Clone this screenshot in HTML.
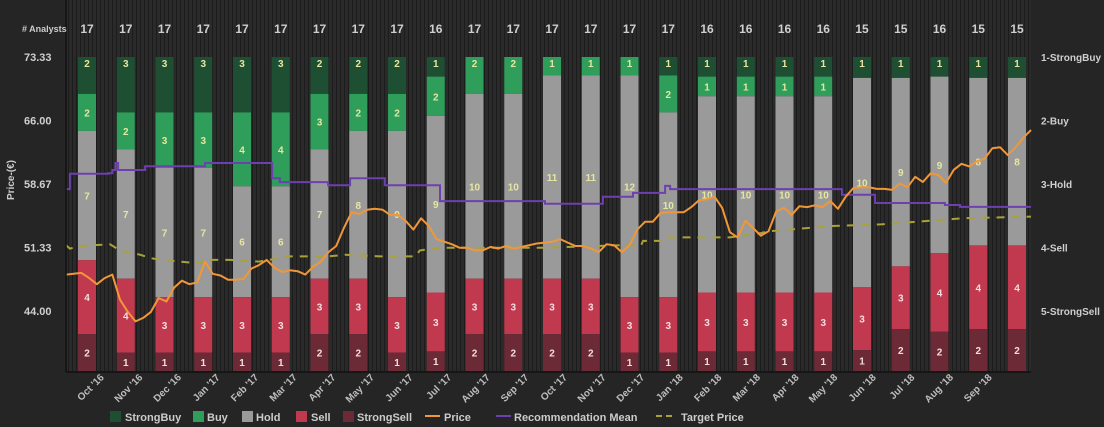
<!DOCTYPE html>
<html><head><meta charset="utf-8"><style>
html,body{margin:0;padding:0;background:#252525;}
svg{display:block;font-family:"Liberation Sans",sans-serif;}
</style></head><body>
<svg id="chart" width="1104" height="427" viewBox="0 0 1104 427">
<defs>
<pattern id="stripes" width="4" height="10" patternUnits="userSpaceOnUse">
<rect width="4" height="10" fill="#2a2a2a"/><rect width="1" height="10" fill="#1c1c1c"/>
</pattern>
</defs>
<rect x="0" y="0" width="1104" height="427" fill="#252525"/>
<rect x="66" y="0" width="965" height="372" fill="url(#stripes)"/>
<g id="bars"></g>
<g id="lines"></g>
<line x1="66" y1="0" x2="66" y2="372" stroke="#111" stroke-width="1.5"/>
<line x1="66" y1="372" x2="1031" y2="372" stroke="#111" stroke-width="1.5"/>
<text x="22" y="32" font-size="9" font-weight="bold" fill="#ccc"># Analysts</text>
<text transform="translate(14,180) rotate(-90)" text-anchor="middle" font-size="10" font-weight="bold" fill="#ccc">Price-(€)</text>
<g id="axes"></g>
<g id="legend" font-size="11" font-weight="bold" fill="#ccc">
<rect x="110" y="411" width="11" height="11" fill="#1f4f33"/>
<text x="125" y="421">StrongBuy</text>
<rect x="193" y="411" width="11" height="11" fill="#2e9e5a"/>
<text x="207" y="421">Buy</text>
<rect x="242" y="411" width="11" height="11" fill="#9a9a9a"/>
<text x="256" y="421">Hold</text>
<rect x="296" y="411" width="11" height="11" fill="#c0394f"/>
<text x="311" y="421">Sell</text>
<rect x="343" y="411" width="11" height="11" fill="#6b2a35"/>
<text x="357" y="421">StrongSell</text>
<line x1="425" y1="416" x2="440" y2="416" stroke="#f0973a" stroke-width="2"/>
<text x="444" y="421">Price</text>
<line x1="496" y1="416" x2="511" y2="416" stroke="#6e3fb0" stroke-width="2"/>
<text x="514" y="421">Recommendation Mean</text>
<line x1="656" y1="416" x2="676" y2="416" stroke="#a9a23a" stroke-width="2" stroke-dasharray="6,4"/>
<text x="681" y="421">Target Price</text>
</g>
</svg>
<script>
const months = ["Oct '16","Nov '16","Dec '16","Jan '17","Feb '17","Mar '17","Apr '17","May '17","Jun '17","Jul '17","Aug '17","Sep '17","Oct '17","Nov '17","Dec '17","Jan '18","Feb '18","Mar '18","Apr '18","May '18","Jun '18","Jul '18","Aug '18","Sep '18"];
const strongBuy = [2,3,3,3,3,3,2,2,2,1,0,0,0,0,0,1,1,1,1,1,1,1,1,1,1];
const buy       = [2,2,3,3,4,4,3,2,2,2,2,2,1,1,1,2,1,1,1,1,0,0,0,0,0];
const hold      = [7,7,7,7,6,6,7,8,9,9,10,10,11,11,12,10,10,10,10,10,10,9,9,8,8];
const sell      = [4,4,3,3,3,3,3,3,3,3,3,3,3,3,3,3,3,3,3,3,3,3,4,4,4];
const strongSell= [2,1,1,1,1,1,2,2,1,1,2,2,2,2,1,1,1,1,1,1,1,2,2,2,2];
const priceTicks = [73.33,66.00,58.67,51.33,44.00];
const recLabels = ["1-StrongBuy","2-Buy","3-Hold","4-Sell","5-StrongSell"];
const priceV = [48.2,48.3,48.4,47.8,47.1,47.8,48.2,45.3,43.9,42.8,43.2,43.9,45.5,45.1,46.7,47.5,47.1,47.3,49.7,48.3,48.1,47.6,47.6,47.7,48.9,49.3,49.9,49.0,48.5,48.7,48.6,48.2,49.1,49.7,50.8,51.5,53.6,55.4,55.2,55.7,55.8,55.7,55.1,55.1,54.4,53.4,54.7,53.8,52.3,52.0,51.7,51.3,51.3,51.0,51.0,51.4,51.2,51.5,51.2,51.4,51.6,51.8,51.9,52.0,52.3,51.9,51.5,51.5,51.2,50.8,51.7,51.6,50.8,51.6,53.4,54.3,54.3,55.3,55.4,55.4,55.4,56.0,56.8,56.9,57.2,55.9,53.1,52.5,54.4,53.6,52.7,53.2,55.5,55.9,55.1,56.1,56.0,56.2,56.0,56.7,55.8,57.2,58.2,58.3,58.3,58.1,58.1,58.0,58.7,58.3,59.5,58.9,59.9,59.7,58.8,60.3,61.0,60.7,61.3,61.6,62.8,62.9,62.0,62.9,64.0,64.9];
const recT = [0,0.1,1.09,1.2,1.28,1.35,2.05,3.6,5.34,5.54,6.79,7.36,8.26,9.69,12.41,13.91,14.69,15.52,15.65,20.1,20.96,22.77,23.16,25];
const recV = [3.08,2.84,2.83,2.78,2.67,2.78,2.72,2.67,2.91,2.97,3.02,2.91,3.02,3.27,3.31,3.20,3.14,3.03,3.08,3.17,3.30,3.33,3.36,3.36];
const targetT = [0,0.1,0.36,1.14,1.4,1.92,2.2,2.46,3.47,3.6,4.25,5.0,5.8,6.8,7.23,8.14,9.04,9.17,9.7,12.4,14.4,14.9,14.95,15.4,15.5,17.2,18.0,18.2,19.0,19.8,21.1,22.6,23.2,25];
const targetV = [51.6,51.2,51.5,51.7,51.0,50.5,50.1,49.9,49.5,49.9,49.9,49.7,50.3,50.3,50.5,50.3,50.3,51.0,51.3,51.3,51.6,51.6,52.1,52.1,52.5,52.5,53.0,53.2,53.5,53.8,54.0,54.5,54.7,54.9];

const NS="http://www.w3.org/2000/svg";
const X0=66, X1=1031, TOP=57, BOT=371;
const xT = t => X0 + (X1-X0)*t/25;
const yP = v => 57 + (73.33-v)*(311-57)/29.33;
const yR = m => 57 + (m-1)*(311-57)/4;
const nBars = strongBuy.length;
const bandX = i => 87 + (1017-87)*i/(nBars-1);
function mk(tag, attrs, parent){const e=document.createElementNS(NS,tag);for(const k in attrs)e.setAttribute(k,attrs[k]);parent.appendChild(e);return e;}

const bars=document.getElementById('bars');
const axes=document.getElementById('axes');
const segCols=["#1f4f33","#2e9e5a","#9a9a9a","#c0394f","#6b2a35"];
const segTxt=["#e6e6a0","#e6e6a0","#e6e6a0","#f3dede","#f3dede"];
const segNames=["strongbuy","buy","hold","sell","strongsell"];
const series=[strongBuy,buy,hold,sell,strongSell];
for(let i=0;i<nBars;i++){
  const total=series.reduce((a,s)=>a+s[i],0);
  const cx=bandX(i);
  const bw=18;
  let y=TOP;
  const c=mk('text',{x:cx,y:33,'text-anchor':'middle','font-size':12,'font-weight':'bold',fill:'#cfcfcf'},axes);
  
  
  c.textContent=total;
  let first=true;
  for(let s=0;s<5;s++){
    const n=series[s][i]; if(!n) continue;
    const h=(BOT-TOP)*n/total;
    const r=mk('rect',{x:cx-bw/2,y:y,width:bw,height:h,fill:segCols[s]},bars);
    
    
    const ly = first ? y+10 : y+h/2+4;
    const t=mk('text',{x:cx,y:ly,'text-anchor':'middle','font-size':10,'font-weight':'bold',fill:segTxt[s]},bars);
    
    
    t.textContent=n;
    first=false;
    y+=h;
  }
}
priceTicks.forEach(v=>{
  const t=mk('text',{x:24,y:yP(v)+4,'font-size':11,'font-weight':'bold',fill:'#cfcfcf'},axes);
  
  
  t.textContent=v.toFixed(2);
});
recLabels.forEach((l,i)=>{
  const t=mk('text',{x:1041,y:yR(i+1)+4,'font-size':10,'font-weight':'bold',fill:'#cfcfcf'},axes);
  
  
  t.textContent=l;
});
months.forEach((m,i)=>{
  const x=xT(i+1);
  const t=mk('text',{x:x,y:378,'text-anchor':'end','font-size':10,'font-weight':'bold',fill:'#bdbdbd',transform:`rotate(-45 ${x} 378)`},axes);
  
  
  t.textContent=m;
});
const lines=document.getElementById('lines');
let tp=targetT.map((t,i)=>xT(t).toFixed(1)+','+yP(targetV[i]).toFixed(1)).join(' ');
const tl=mk('polyline',{points:tp,fill:'none',stroke:'#a9a23a','stroke-width':2,'stroke-dasharray':'8,7'},lines);


let rp=[];
recT.forEach((t,i)=>{ if(i>0) rp.push(xT(t).toFixed(1)+','+yR(recV[i-1]).toFixed(1)); rp.push(xT(t).toFixed(1)+','+yR(recV[i]).toFixed(1)); });
const rl=mk('polyline',{points:rp.join(' '),fill:'none',stroke:'#6e3fb0','stroke-width':2},lines);


const step=25/(priceV.length-1);
let pp=priceV.map((v,i)=>xT(i*step).toFixed(1)+','+yP(v).toFixed(1)).join(' ');
const pl=mk('polyline',{points:pp,fill:'none',stroke:'#f0973a','stroke-width':2,'stroke-linejoin':'round'},lines);


</script>
</body></html>
